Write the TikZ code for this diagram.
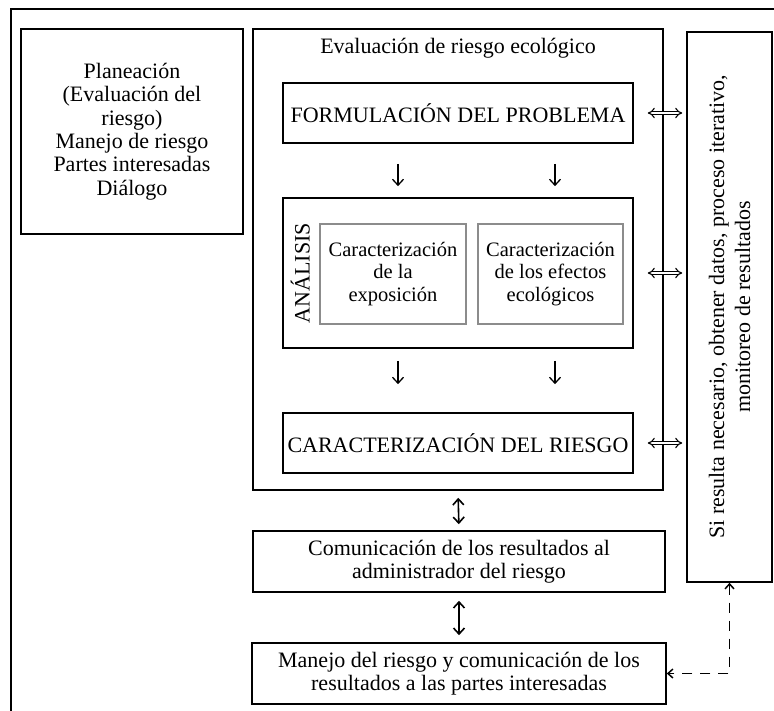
\documentclass[tikz,border=0pt]{standalone}
\usepackage{fontspec}
\setmainfont{Liberation Serif}
\usetikzlibrary{arrows.meta,positioning}
\tikzset{
  caja/.style={draw,line width=1.6pt,align=center,inner sep=2pt},
  subcaja/.style={draw=black!45,line width=1.4pt,align=center,font=\fontsize{20.5}{22.5}\selectfont},
  flecha/.style={line width=1.3pt,-{Straight Barb[length=6pt,width=11pt]}},
  doble/.style={double,double distance=2.4pt,line width=1.1pt,{Implies}-{Implies}},
  ida/.style={line width=1.6pt,{Straight Barb[length=6pt,width=11pt]}-{Straight Barb[length=6pt,width=11pt]}},
  rayas/.style={line width=1.5pt,dash pattern=on 10pt off 8pt,{Straight Barb[length=5pt,width=9pt]}-{Straight Barb[length=5pt,width=9pt]}}
}
\begin{document}
\begin{tikzpicture}[x=1pt,y=-1pt,font=\fontsize{22}{23.4}\selectfont]
    \useasboundingbox (0,0) rectangle (774,711);
    \clip (0,0) rectangle (774,711);
    \draw[line width=1.6pt] (11,9) rectangle (800,740);
    \node[caja,minimum width=222pt,minimum height=205pt] (plan) at (132,131.5)
        {Planeación\\(Evaluación del\\riesgo)\\Manejo de riesgo\\Partes interesadas\\Diálogo};
    \node[caja,minimum width=410pt,minimum height=461pt] (eval) at (458,259.5) {};
    \node[below=6pt of eval.north] (titulo) {Evaluación de riesgo ecológico};
    \node[caja,minimum width=350pt,minimum height=60pt] (form) at (458,113) {FORMULACIÓN DEL PROBLEMA};
    \node[caja,minimum width=350pt,minimum height=150pt] (anal) at (458,273) {};
    \node[rotate=90] (analt) at ([xshift=18pt]anal.west) {ANÁLISIS};
    \node[subcaja,minimum width=146pt,minimum height=100pt] (expo) at (393,274)
        {Caracterización\\de la\\exposición};
    \node[subcaja,minimum width=145pt,minimum height=100pt] (efec) at (550.5,274)
        {Caracterización\\de los efectos\\ecológicos};
    \node[caja,minimum width=350pt,minimum height=60pt] (riesgo) at (458,443) {CARACTERIZACIÓN DEL RIESGO};
    \node[caja,minimum width=412pt,minimum height=61pt] (comu) at (459,561.5)
        {Comunicación de los resultados al\\administrador del riesgo};
    \node[caja,minimum width=414pt,minimum height=61pt] (mane) at (459,673.5)
        {Manejo del riesgo y comunicación de los\\resultados a las partes interesadas};
    \node[caja,minimum width=85pt,minimum height=550pt] (iter) at (729.5,307) {};
    \node[rotate=90,align=center,font=\fontsize{22}{26}\selectfont] (itert) at (iter.center)
        {Si resulta necesario, obtener datos, proceso iterativo,\\monitoreo de resultados};
    \foreach \dx in {-60,97} {
        \draw[flecha,shorten <=20pt,shorten >=11pt] ([xshift=\dx pt]form.south) -- ([xshift=\dx pt]anal.north);
        \draw[flecha,shorten <=12pt,shorten >=28pt] ([xshift=\dx pt]anal.south) -- ([xshift=\dx pt]riesgo.north);
    }
    \foreach \n in {form,anal,riesgo}
        \draw[doble,shorten <=14pt,shorten >=4pt] (\n.east) -- (\n.east -| iter.west);
    \draw[ida,shorten <=7pt,shorten >=6pt] (eval.south) -- (comu.north);
    \draw[ida,shorten <=8pt,shorten >=7pt] (comu.south) -- (mane.north);
    \draw[rayas] (iter.south) -- (iter.south |- mane.east) -- (mane.east);
\end{tikzpicture}
\end{document}
